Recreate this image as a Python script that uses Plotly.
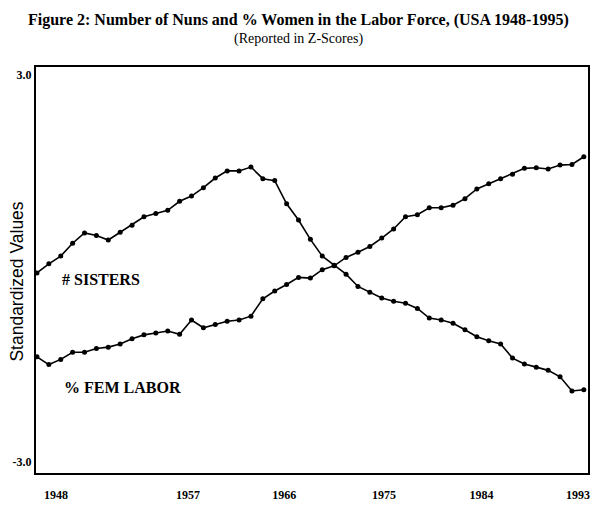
import plotly.graph_objects as go

# years covered by the two series
years = list(range(1948, 1995))

# number of sisters, z-scores
sisters = [-0.07, 0.07, 0.19, 0.39, 0.55, 0.51, 0.44, 0.56, 0.67, 0.80,
           0.85, 0.90, 1.04, 1.12, 1.25, 1.40, 1.51, 1.51, 1.57, 1.39,
           1.36, 1.00, 0.75, 0.45, 0.19, 0.05, -0.09, -0.28, -0.37, -0.46,
           -0.51, -0.54, -0.62, -0.77, -0.80, -0.85, -0.95, -1.06, -1.12, -1.17,
           -1.39, -1.48, -1.53, -1.58, -1.68, -1.90, -1.88]

# % women in the labor force, z-scores
fem_labor = [-1.37, -1.49, -1.41, -1.30, -1.30, -1.24, -1.22, -1.17, -1.09, -1.03,
             -1.00, -0.97, -1.02, -0.80, -0.92, -0.87, -0.82, -0.80, -0.74, -0.47,
             -0.35, -0.25, -0.14, -0.15, -0.02, 0.04, 0.17, 0.25, 0.34, 0.47,
             0.61, 0.80, 0.83, 0.94, 0.94, 0.98, 1.08, 1.23, 1.31, 1.39,
             1.46, 1.55, 1.56, 1.54, 1.60, 1.61, 1.73]

x_tick_labels = ["1948", "1957", "1966", "1975", "1984", "1993"]
y_tick_labels = ["3.0", "-3.0"]
y_tick_values = [3.0, -3.0]

# where the x labels sit in the original (they are offset from the data)
x_tick_pos = [1949.6, 1960.7, 1968.8, 1977.2, 1985.4, 1993.5]

serif = "Liberation Serif"
line_style = dict(color="black", width=1.6)
marker_style = dict(color="black", size=5)

fig = go.Figure()
fig.add_trace(go.Scatter(x=years, y=sisters, mode="lines+markers",
                         line=line_style, marker=marker_style, name="# SISTERS"))
fig.add_trace(go.Scatter(x=years, y=fem_labor, mode="lines+markers",
                         line=line_style, marker=marker_style, name="% FEM LABOR"))

fig.add_annotation(x=1949.9, y=-0.17, text="<b># SISTERS</b>", showarrow=False,
                   xanchor="left", yanchor="middle",
                   font=dict(family=serif, size=16, color="black"))
fig.add_annotation(x=1950.1, y=-1.84, text="<b>% FEM LABOR</b>", showarrow=False,
                   xanchor="left", yanchor="middle",
                   font=dict(family=serif, size=16, color="black"))
fig.add_annotation(xref="paper", yref="paper", x=-0.034, y=0.472,
                   text="Standardized Values", textangle=-90, showarrow=False,
                   xanchor="center", yanchor="middle",
                   font=dict(family="Liberation Sans", size=17.5, color="black"))

# title and subtitle
fig.add_annotation(xref="paper", yref="paper", x=0.475, y=1.115,
                   text="<b>Figure 2: Number of Nuns and % Women in the Labor Force, (USA 1948-1995)</b>",
                   showarrow=False, xanchor="center", yanchor="middle",
                   font=dict(family=serif, size=16, color="black"))
fig.add_annotation(xref="paper", yref="paper", x=0.475, y=1.069,
                   text="(Reported in Z-Scores)",
                   showarrow=False, xanchor="center", yanchor="middle",
                   font=dict(family=serif, size=14, color="black"))

fig.update_layout(
    width=595, height=507,
    margin=dict(l=36, r=5, t=67, b=33),
    paper_bgcolor="white", plot_bgcolor="white",
    showlegend=False,
)
# invisible outside ticks push the year labels down
fig.update_xaxes(range=[1947.92, 1994.35], showgrid=False, zeroline=False,
                 showline=True, linecolor="black", linewidth=2, mirror=True,
                 tickmode="array", tickvals=x_tick_pos, ticktext=x_tick_labels,
                 ticks="outside", ticklen=10, tickcolor="rgba(0,0,0,0)",
                 tickfont=dict(family=serif, size=12, color="black", weight="bold"))
fig.update_yaxes(range=[-3.17, 3.12], showgrid=False, zeroline=False,
                 showline=True, linecolor="black", linewidth=2, mirror=True,
                 tickmode="array", tickvals=y_tick_values, ticktext=y_tick_labels,
                 ticks="",
                 tickfont=dict(family=serif, size=12, color="black", weight="bold"))

# drop the default page margin so the figure sits at the window corner
fig.write_html("out.html", config={"displayModeBar": False},
               post_script="document.body.style.margin='0';document.body.style.overflow='hidden';")
